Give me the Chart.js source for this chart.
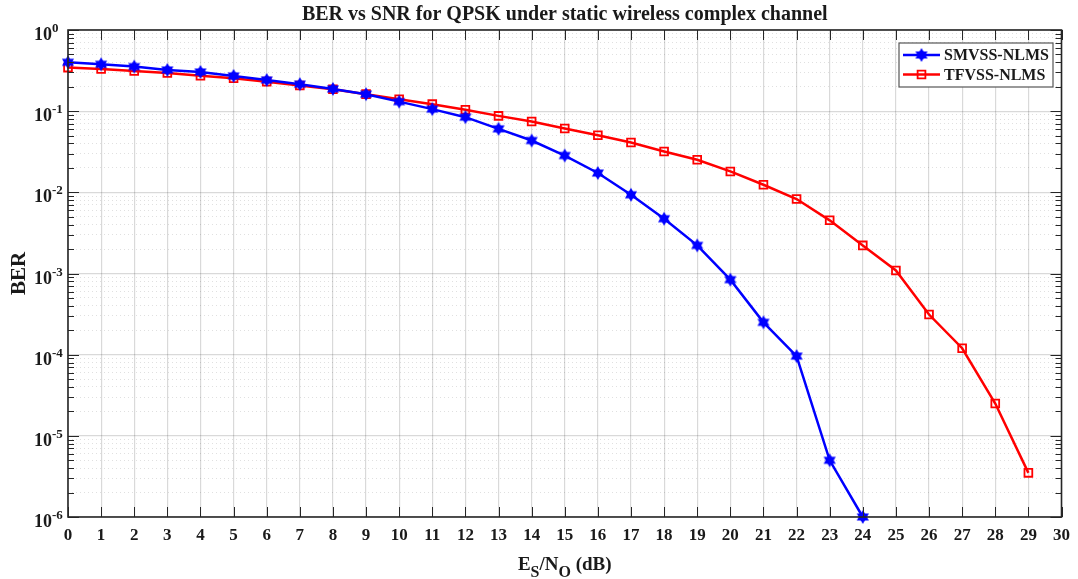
<!DOCTYPE html>
<html>
<head>
<meta charset="utf-8">
<script src="https://cdn.jsdelivr.net/npm/chart.js@4.4.1/dist/chart.umd.min.js"></script>
<style>
  body { margin: 0; background: #fff; }
  #wrap { width: 1078px; height: 579px; position: relative; }
</style>
</head>
<body>
<div id="wrap"><canvas id="berChart"></canvas></div>
<script>
// Datos
const snrDb = [0, 1, 2, 3, 4, 5, 6, 7, 8, 9, 10, 11, 12, 13, 14, 15, 16, 17, 18, 19, 20, 21, 22, 23, 24, 25, 26, 27, 28, 29];
const berSmvss = [0.40, 0.378, 0.354, 0.322, 0.304, 0.272, 0.242, 0.215, 0.188, 0.162, 0.131, 0.106, 0.0843, 0.0606, 0.0435, 0.0284, 0.0173, 0.00933, 0.00473, 0.00222, 0.00084, 0.00025, 9.6e-5, 5.0e-6, 1.0e-6];
const berTfvss = [0.344, 0.331, 0.313, 0.296, 0.274, 0.255, 0.231, 0.207, 0.186, 0.162, 0.140, 0.122, 0.104, 0.0875, 0.0746, 0.0611, 0.0506, 0.0411, 0.0319, 0.0252, 0.0181, 0.0124, 0.00826, 0.00452, 0.00222, 0.00109, 0.000312, 0.00012, 2.5e-5, 3.5e-6];
const seriesNames = ['SMVSS-NLMS', 'TFVSS-NLMS'];
const xTicks = [0, 1, 2, 3, 4, 5, 6, 7, 8, 9, 10, 11, 12, 13, 14, 15, 16, 17, 18, 19, 20, 21, 22, 23, 24, 25, 26, 27, 28, 29, 30];
const yDecades = [0, -1, -2, -3, -4, -5, -6];

const FONT = "'Liberation Serif', 'Times New Roman', serif";
const TXT = '#1a1a1a';

// Marcador hexagrama (como 'h' de MATLAB)
const makeHexagram = (color, r) => {
    const c = document.createElement('canvas');
    const s = Math.ceil(r * 2 + 2);
    c.width = s; c.height = s;
    const g = c.getContext('2d');
    const cx = s / 2, cy = s / 2;
    g.fillStyle = color;
    for (const rot of [-Math.PI / 2, Math.PI / 2]) {
        g.beginPath();
        for (let k = 0; k < 3; k++) {
            const a = rot + k * 2 * Math.PI / 3;
            const px = cx + r * Math.cos(a), py = cy + r * Math.sin(a);
            k === 0 ? g.moveTo(px, py) : g.lineTo(px, py);
        }
        g.closePath();
        g.fill();
    }
    return c;
};
const starBlue = makeHexagram('#0000ff', 7);

const isDecade = v => Math.abs(Math.log10(v) - Math.round(Math.log10(v))) < 1e-9;

// Ejes tipo MATLAB: caja, marcas hacia dentro, etiquetas 10^k, título del eje x y leyenda
const matlabAxes = {
    id: 'matlabAxes',
    afterDraw(chart) {
        const ctx = chart.ctx;
        const { left, right, top, bottom } = chart.chartArea;
        const xs = chart.scales.x, ys = chart.scales.y;
        ctx.save();

        // marcas
        ctx.strokeStyle = '#262626';
        ctx.lineWidth = 1;
        ctx.beginPath();
        xTicks.forEach(v => {
            const px = Math.round(xs.getPixelForValue(v)) + 0.5;
            ctx.moveTo(px, bottom); ctx.lineTo(px, bottom - 10);
            ctx.moveTo(px, top); ctx.lineTo(px, top + 10);
        });
        ys.ticks.forEach(t => {
            const py = Math.round(ys.getPixelForValue(t.value)) + 0.5;
            const len = isDecade(t.value) ? 11 : 6;
            ctx.moveTo(left, py); ctx.lineTo(left + len, py);
            ctx.moveTo(right, py); ctx.lineTo(right - len, py);
        });
        ctx.stroke();

        // caja
        ctx.lineWidth = 1.6;
        ctx.strokeRect(left, top, right - left, bottom - top);

        // etiquetas del eje y
        ctx.fillStyle = TXT;
        yDecades.forEach(k => {
            const py = ys.getPixelForValue(Math.pow(10, k));
            ctx.font = `bold 18px ${FONT}`;
            ctx.textAlign = 'right';
            ctx.textBaseline = 'alphabetic';
            ctx.fillText('10', 52, py + 10);
            ctx.font = `bold 13px ${FONT}`;
            ctx.textAlign = 'left';
            ctx.fillText(k === 0 ? '0' : '-' + (-k), 52, py + 2);
        });

        // título del eje x con subíndices
        const parts = [['E', 19, 0], ['S', 16, 7], ['/N', 19, 0], ['O', 16, 7], [' (dB)', 19, 0]];
        let total = 0;
        parts.forEach(p => { ctx.font = `bold ${p[1]}px ${FONT}`; p.push(ctx.measureText(p[0]).width); total += p[3]; });
        let cx = (left + right) / 2 - total / 2;
        ctx.textAlign = 'left';
        parts.forEach(p => {
            ctx.font = `bold ${p[1]}px ${FONT}`;
            ctx.fillText(p[0], cx, 570 + p[2]);
            cx += p[3];
        });

        // leyenda
        const lx = 899, ly = 43, lw = 154, lh = 44;
        ctx.fillStyle = '#fff';
        ctx.fillRect(lx, ly, lw, lh);
        ctx.strokeStyle = '#555';
        ctx.lineWidth = 1.2;
        ctx.strokeRect(lx, ly, lw, lh);
        chart.data.datasets.forEach((ds, i) => {
            const yy = ly + 12 + i * 19.5;
            ctx.strokeStyle = ds.borderColor;
            ctx.lineWidth = ds.borderWidth;
            ctx.beginPath();
            ctx.moveTo(lx + 4, yy); ctx.lineTo(lx + 41, yy);
            ctx.stroke();
            ctx.fillStyle = ds.backgroundColor;
            ctx.strokeStyle = ds.borderColor;
            ctx.lineWidth = ds.pointBorderWidth;
            Chart.helpers.drawPoint(ctx, {
                pointStyle: ds.pointStyle, radius: ds.pointRadius, borderWidth: ds.pointBorderWidth, rotation: 0
            }, lx + 22.5, yy);
            ctx.fillStyle = TXT;
            ctx.font = `bold 16px ${FONT}`;
            ctx.textBaseline = 'middle';
            ctx.textAlign = 'left';
            ctx.fillText(ds.label, lx + 45, yy + 1);
        });
        ctx.restore();
    }
};

const ctxBer = document.getElementById('berChart').getContext('2d');
const berChart = new Chart(ctxBer, {
    type: 'line',
    data: {
        datasets: [{
            label: seriesNames[0],
            data: berSmvss.map((v, i) => ({ x: snrDb[i], y: v })),
            borderColor: '#0000ff',
            backgroundColor: '#0000ff',
            borderWidth: 2.5,
            pointStyle: starBlue,
            pointRadius: 6,
            pointBorderWidth: 1,
            clip: false
        }, {
            label: seriesNames[1],
            data: berTfvss.map((v, i) => ({ x: snrDb[i], y: v })),
            borderColor: '#ff0000',
            backgroundColor: 'rgba(255,255,255,0)',
            borderWidth: 2.5,
            pointStyle: 'rect',
            pointRadius: 5.5,
            pointBorderWidth: 1.8,
            clip: false
        }]
    },
    options: {
        responsive: true,
        maintainAspectRatio: false,
        animation: false,
        layout: { padding: { right: 12 } },
        elements: { line: { tension: 0 } },
        scales: {
            x: {
                type: 'linear',
                min: 0,
                max: 30,
                afterBuildTicks: scale => { scale.ticks = xTicks.map(v => ({ value: v })); },
                afterFit: scale => { scale.height = 62; },
                ticks: {
                    autoSkip: false,
                    maxRotation: 0,
                    padding: 8,
                    color: TXT,
                    font: { family: FONT, size: 17, weight: 'bold' }
                },
                grid: {
                    drawTicks: false,
                    color: 'rgba(0,0,0,0.15)',
                    lineWidth: 1.2
                },
                border: { display: false }
            },
            y: {
                type: 'logarithmic',
                min: 1e-6,
                max: 1,
                afterBuildTicks: scale => {
                    const t = [];
                    for (let k = -6; k <= 0; k++) {
                        for (let m = 1; m <= 9; m++) {
                            const v = m * Math.pow(10, k);
                            if (v <= 1.0000001) t.push({ value: v });
                        }
                    }
                    scale.ticks = t;
                },
                afterFit: scale => { scale.width = 68; },
                ticks: { display: false, autoSkip: false },
                grid: {
                    drawTicks: false,
                    color: c => c.tick && isDecade(c.tick.value) ? 'rgba(0,0,0,0.15)' : 'rgba(0,0,0,0.12)',
                    lineWidth: c => c.tick && isDecade(c.tick.value) ? 1.2 : 1
                },
                border: {
                    display: false,
                    dash: c => c.tick && !isDecade(c.tick.value) ? [1, 3] : []
                },
                title: {
                    display: true,
                    text: 'BER',
                    color: TXT,
                    padding: { top: 7, bottom: 0 },
                    font: { family: FONT, size: 21, weight: 'bold' }
                }
            }
        },
        plugins: {
            legend: { display: false },
            tooltip: { enabled: false },
            title: {
                display: true,
                fullSize: false,
                text: 'BER vs SNR for QPSK under static wireless complex channel',
                color: TXT,
                padding: { top: 3, bottom: 3 },
                font: { family: FONT, size: 20, weight: 'bold', lineHeight: 1.2 }
            }
        }
    },
    plugins: [matlabAxes]
});
</script>
</body>
</html>
